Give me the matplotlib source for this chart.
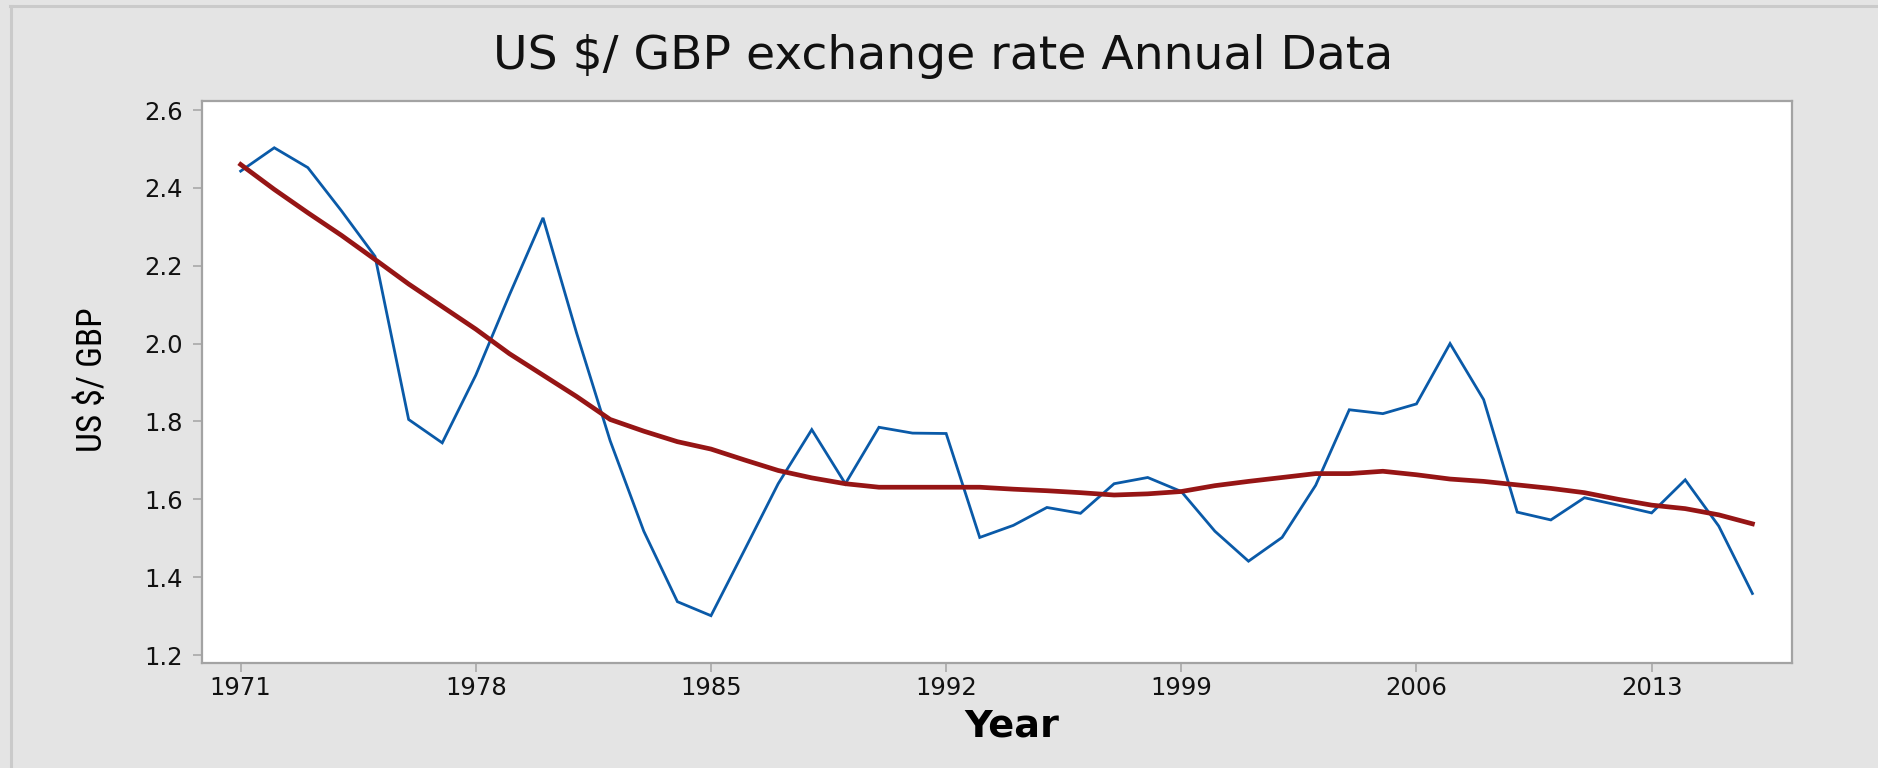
import matplotlib
matplotlib.use("Agg")
import matplotlib.pyplot as plt
from matplotlib.lines import Line2D
from matplotlib import font_manager

years = [1971, 1972, 1973, 1974, 1975, 1976, 1977, 1978, 1979, 1980,
         1981, 1982, 1983, 1984, 1985, 1986, 1987, 1988, 1989, 1990,
         1991, 1992, 1993, 1994, 1995, 1996, 1997, 1998, 1999, 2000,
         2001, 2002, 2003, 2004, 2005, 2006, 2007, 2008, 2009, 2010,
         2011, 2012, 2013, 2014, 2015, 2016]

rate = [2.443, 2.503, 2.452, 2.341, 2.224, 1.805, 1.745, 1.919, 2.125, 2.323,
        2.027, 1.750, 1.518, 1.337, 1.301, 1.470, 1.640, 1.779, 1.640, 1.785,
        1.770, 1.769, 1.502, 1.533, 1.579, 1.564, 1.640, 1.656, 1.620, 1.518,
        1.441, 1.502, 1.636, 1.830, 1.820, 1.845, 2.000, 1.856, 1.567, 1.547,
        1.604, 1.585, 1.565, 1.650, 1.531, 1.358]

smooth = [2.460, 2.396, 2.336, 2.278, 2.216, 2.153, 2.095, 2.037, 1.974, 1.919,
          1.864, 1.805, 1.775, 1.748, 1.729, 1.701, 1.674, 1.655, 1.640, 1.631,
          1.631, 1.631, 1.631, 1.626, 1.622, 1.617, 1.611, 1.614, 1.620, 1.635,
          1.646, 1.656, 1.666, 1.666, 1.672, 1.663, 1.652, 1.646, 1.637, 1.628,
          1.617, 1.600, 1.585, 1.576, 1.560, 1.537]

xticks = [1971, 1978, 1985, 1992, 1999, 2006, 2013]
yticks = [1.2, 1.4, 1.6, 1.8, 2.0, 2.2, 2.4, 2.6]

# pick a condensed face for the y label if one is installed
available = {f.name for f in font_manager.fontManager.ttflist}
narrow = "DejaVu Sans"
for cand in ["Liberation Sans Narrow", "DejaVu Sans Condensed", "Roboto Condensed",
             "Open Sans Condensed", "Noto Sans Condensed"]:
    if cand in available:
        narrow = cand
        break

W, H = 1878, 768
fig = plt.figure(figsize=(W / 100, H / 100), dpi=100, facecolor="#e4e4e4")
ax = fig.add_axes([201.7 / W, 1 - 663.3 / H, (1791.7 - 201.7) / W, (663.3 - 100.7) / H])
ax.set_facecolor("white")

ax.plot(years, rate, color="#0a5aa8", lw=2.0, solid_joinstyle="miter", zorder=3)
ax.plot(years, smooth, color="#961515", lw=3.4, zorder=4)

ax.set_xlim(1969.84, 2017.17)
ax.set_ylim(1.1787, 2.6239)
ax.set_xticks(xticks)
ax.set_yticks(yticks)
ax.set_yticklabels([f"{v:.1f}" for v in yticks])

for s in ax.spines.values():
    s.set_color("#a3a3a3")
    s.set_linewidth(1.6)

ax.tick_params(axis="both", direction="out", length=6.3, width=1.1, color="#a3a3a3",
               labelsize=17.5, labelcolor="#111111")
ax.tick_params(axis="y", pad=7)
ax.tick_params(axis="x", pad=3)

ax.set_xlabel("Year", fontsize=27.5, fontweight="bold")
ax.xaxis.set_label_coords(0.5096, -0.08)
ax.set_ylabel("US $/ GBP", fontsize=25.5 if narrow != "DejaVu Sans" else 21,
              family=[narrow, "DejaVu Sans"])
ax.yaxis.set_label_coords(-0.058, 0.505)

fig.suptitle("US $/ GBP exchange rate Annual Data", x=0.502, y=0.927, va="center",
             fontsize=34, color="#111111")

# outer screenshot border
fig.add_artist(Line2D([10.5 / W, 10.5 / W], [0, 1 - 6 / H], transform=fig.transFigure,
                      color="#cacaca", lw=2.2))
fig.add_artist(Line2D([10 / W, 1], [1 - 6 / H, 1 - 6 / H], transform=fig.transFigure,
                      color="#cacaca", lw=2.2))

fig.savefig("out.png", dpi=100, facecolor=fig.get_facecolor())
